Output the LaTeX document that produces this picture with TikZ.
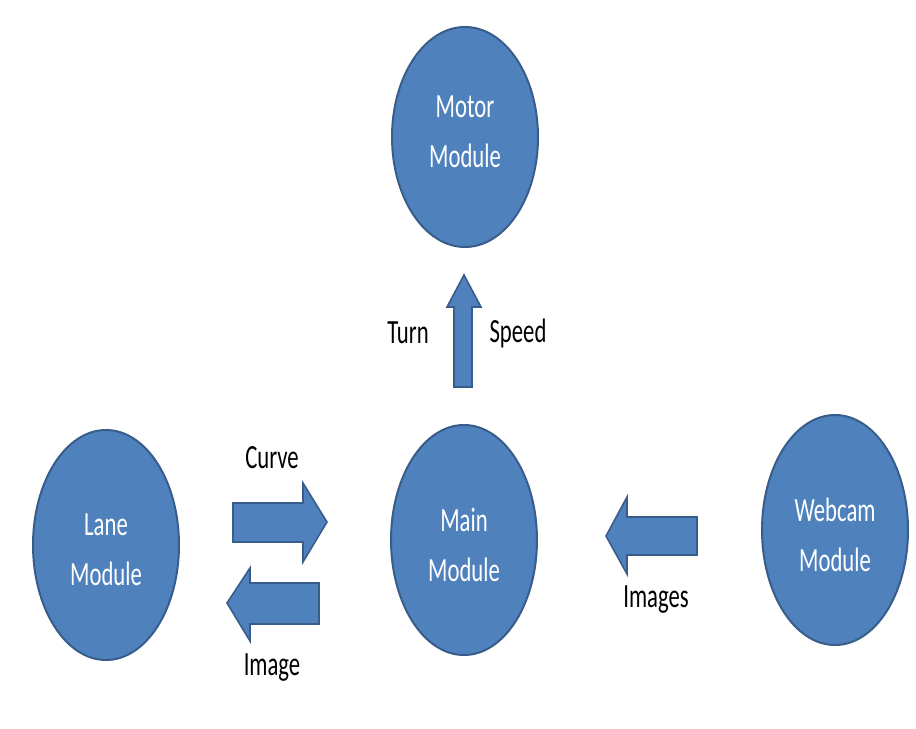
\documentclass[tikz,border=0pt]{standalone}
\usepackage{fontspec}
\setmainfont{Carlito}[FakeStretch=0.67]
\usetikzlibrary{shapes.geometric}
\definecolor{modfill}{HTML}{4F81BD}
\definecolor{modline}{HTML}{385D8A}
\tikzset{
  module/.style={ellipse, fill=modfill, draw=modline, line width=2bp,
    minimum width=146bp, inner sep=0pt, text=white, align=center,
    font=\fontsize{34}{50}\selectfont},
  modtext/.style={inner sep=0pt, text=white, align=center,
    font=\fontsize{34}{50}\selectfont},
  blockarrow/.style={fill=modfill, draw=modline, line width=1.6bp, line join=miter},
  lbl/.style={font=\fontsize{34}{40}\selectfont, text=black, inner sep=0pt}
}
\begin{document}
\begin{tikzpicture}[x=1bp,y=-1bp]
\useasboundingbox (0,0) rectangle (916,729);

% module ellipses
\node[module, minimum height=220bp] (motor) at (465,137) {};
\node[module, minimum height=230bp] (main) at (464,540) {};
\node[module, minimum height=230bp] (lane) at (106,545) {};
\node[module, minimum height=230bp] (webcam) at (835,530) {};

% module names
\node[modtext] (motortxt) at (465,132) {Motor\\Module};
\node[modtext] (maintxt) at (464,545) {Main\\Module};
\node[modtext] (lanetxt) at (106,550) {Lane\\Module};
\node[modtext] (webcamtxt) at (835,535) {Webcam\\Module};

% block arrows
% Main -> Motor (up)
\filldraw[blockarrow] (454,387) -- (454,307) -- (447,307) -- (464,275)
  -- (481,307) -- (472,307) -- (472,387) -- cycle;
% Lane -> Main (right)
\filldraw[blockarrow] (233,503) -- (303,503) -- (303,483) -- (327,522)
  -- (303,562) -- (303,542) -- (233,542) -- cycle;
% Main -> Lane (left)
\filldraw[blockarrow] (319,583) -- (250,583) -- (250,568) -- (227,603)
  -- (250,641) -- (250,624) -- (319,624) -- cycle;
% Webcam -> Main (left)
\filldraw[blockarrow] (697,517) -- (627,517) -- (627,497) -- (606,536)
  -- (627,574) -- (627,555) -- (697,555) -- cycle;

% arrow labels
\node[lbl] (turn) at (408,333) {Turn};
\node[lbl] (speed) at (518,333) {Speed};
\node[lbl] (curve) at (272,458) {Curve};
\node[lbl] (image) at (272,668) {Image};
\node[lbl] (images) at (656,600) {Images};
\end{tikzpicture}
\end{document}
